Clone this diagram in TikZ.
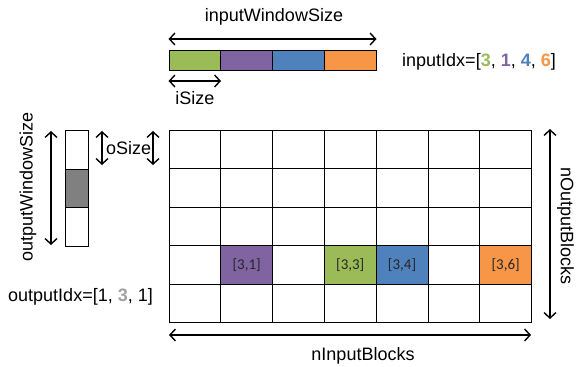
\documentclass[tikz,border=0pt]{standalone}
\usepackage{fontspec}
\setmainfont{Liberation Sans}
\newfontfamily\cellfont{Carlito}
\usetikzlibrary{arrows.meta}
\definecolor{cgreen}{HTML}{9BBB59}
\definecolor{cpurple}{HTML}{8064A2}
\definecolor{cblue}{HTML}{4F81BD}
\definecolor{corange}{HTML}{F79646}
\definecolor{cgray}{HTML}{808080}
\definecolor{cidxgray}{HTML}{A0A0A0}
\tikzset{
  cellbox/.style={draw=black, line width=0.9pt, minimum width=51.8pt, minimum height=38.4pt, inner sep=0pt, anchor=north west},
  barbox/.style={draw=black, line width=1pt, minimum width=51.8pt, minimum height=20pt, inner sep=0pt, anchor=north west},
  outbox/.style={draw=black, line width=0.9pt, minimum width=23pt, minimum height=38.6pt, inner sep=0pt, anchor=north west},
  dimarrow/.style={<->, line width=1.4pt, >={Straight Barb[length=5.5pt,width=12pt,line width=1.4pt]}},
  lbl/.style={font=\fontsize{18}{20}\selectfont, inner sep=0pt},
  celllbl/.style={font=\cellfont\fontsize{15}{17}\selectfont, text=black!85},
}
\begin{document}
\begin{tikzpicture}[x=1pt,y=-1pt]
\useasboundingbox (0,0) rectangle (577,366);
% grid
\foreach \r in {0,...,4}{
  \foreach \c in {0,...,6}{
    \node[cellbox] (g\r\c) at ({168.5+51.8*\c},{130+38.4*\r}) {};
  }
}
\node[cellbox, fill=cpurple] (h31) at ({168.5+51.8*1},{130+38.4*3}) {};
\node[cellbox, fill=cgreen] (h33) at ({168.5+51.8*3},{130+38.4*3}) {};
\node[cellbox, fill=cblue] (h34) at ({168.5+51.8*4},{130+38.4*3}) {};
\node[cellbox, fill=corange] (h36) at ({168.5+51.8*6},{130+38.4*3}) {};
\node[celllbl] (t31) at (h31.center) {[3,1]};
\node[celllbl] (t33) at (h33.center) {[3,3]};
\node[celllbl] (t34) at (h34.center) {[3,4]};
\node[celllbl] (t36) at (h36.center) {[3,6]};
% input bar
\node[barbox, fill=cgreen] (b1) at (168.5,50) {};
\node[barbox, fill=cpurple] (b2) at (220.3,50) {};
\node[barbox, fill=cblue] (b3) at (272.1,50) {};
\node[barbox, fill=corange] (b4) at (323.9,50) {};
% inputWindowSize
\coordinate (iwL) at (168.5,39);
\coordinate (iwR) at (376.5,39);
\draw[dimarrow] (iwL) -- (iwR);
\node[lbl] (iwtxt) at (274,17) {inputWindowSize};
% iSize
\coordinate (isL) at (168.5,81);
\coordinate (isR) at (221,81);
\draw[dimarrow] (isL) -- (isR);
\node[lbl] (istxt) at (195,98) {iSize};
% inputIdx
\node[lbl, anchor=west] (iidx) at (402,62) {inputIdx=[{\bfseries\color{cgreen}3}, {\bfseries\color{cpurple}1}, {\bfseries\color{cblue}4}, {\bfseries\color{corange}6}]};
% output column
\node[outbox] (o1) at (64.5,130) {};
\node[outbox, fill=cgray] (o2) at (64.5,168.6) {};
\node[outbox] (o3) at (64.5,207.2) {};
% outputWindowSize
\coordinate (owT) at (51,131);
\coordinate (owB) at (51,245);
\draw[dimarrow] (owT) -- (owB);
\node[lbl, rotate=90] (owtxt) at (28,187) {outputWindowSize};
% oSize
\coordinate (os1T) at (102,131);
\coordinate (os1B) at (102,165);
\coordinate (os2T) at (153,131);
\coordinate (os2B) at (153,165);
\draw[dimarrow] (os1T) -- (os1B);
\draw[dimarrow] (os2T) -- (os2B);
\node[lbl, anchor=west] (ostxt) at (106,148) {oSize};
% outputIdx
\node[lbl, anchor=west] (oidx) at (8,297) {outputIdx=[1, {\bfseries\color{cidxgray}3}, 1]};
% nOutputBlocks
\coordinate (noT) at (550,129);
\coordinate (noB) at (550,319);
\draw[dimarrow] (noT) -- (noB);
\node[lbl, rotate=-90] (notxt) at (565.5,226) {nOutputBlocks};
% nInputBlocks
\coordinate (niL) at (169,335);
\coordinate (niR) at (531,335);
\draw[dimarrow] (niL) -- (niR);
\node[lbl] (nitxt) at (363,356) {nInputBlocks};
\end{tikzpicture}
\end{document}
